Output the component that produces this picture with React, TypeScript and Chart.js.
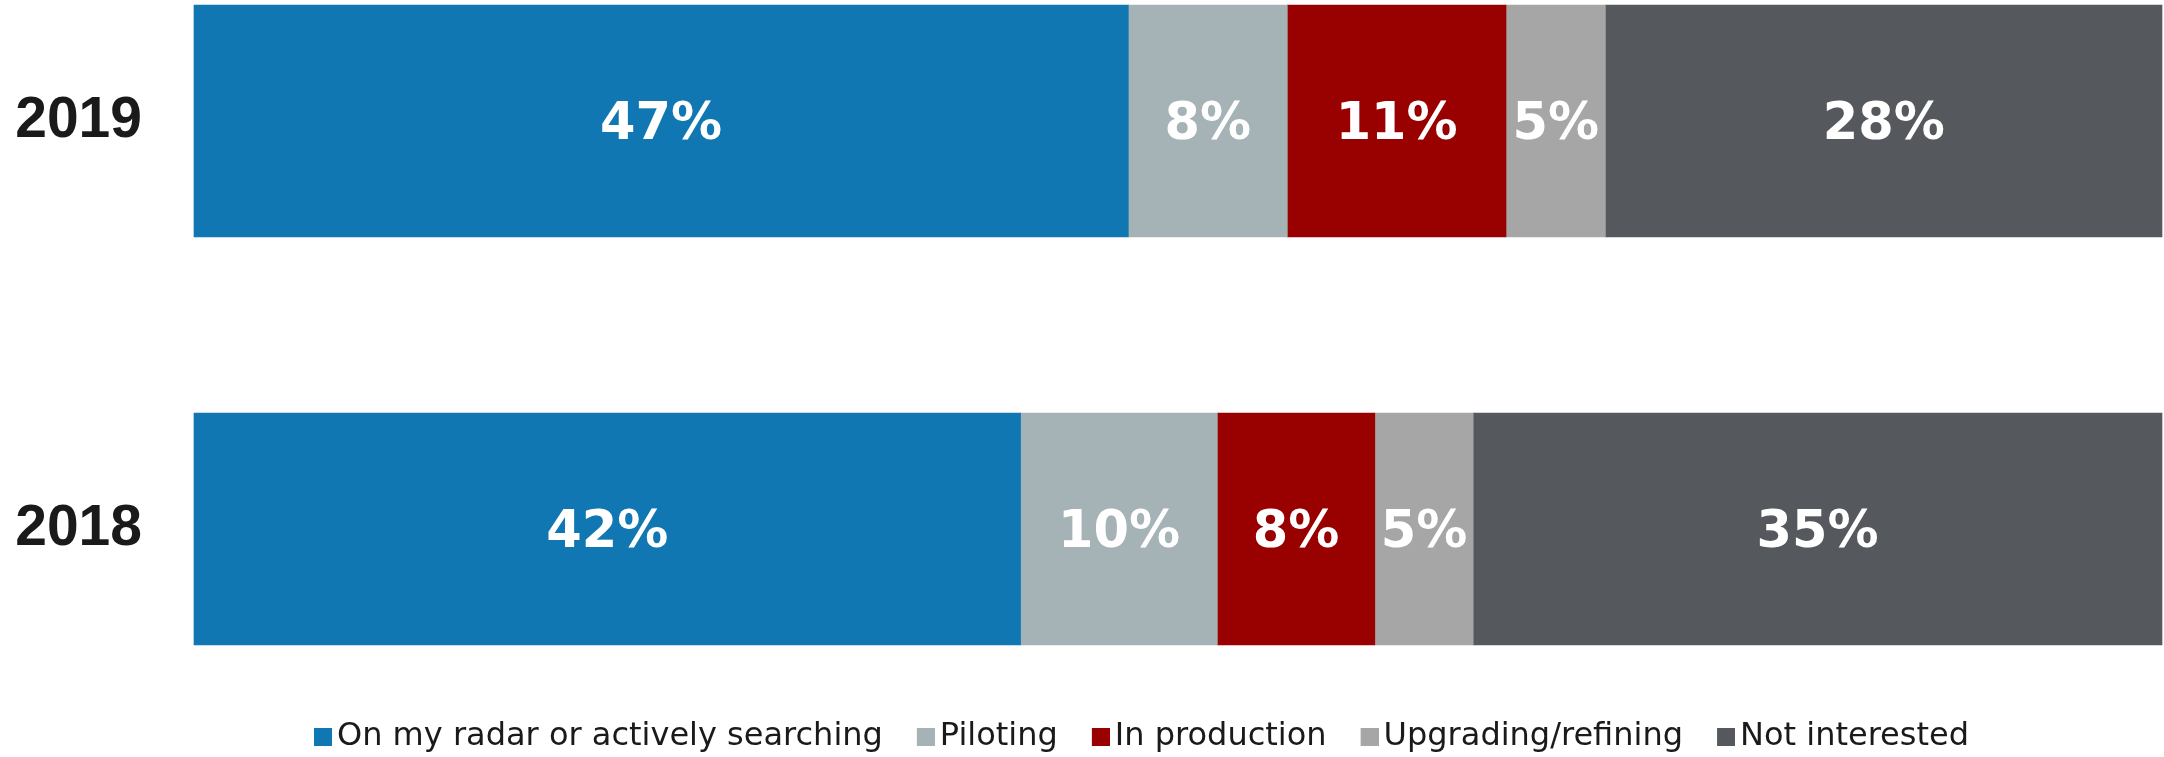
import React, { useEffect, useRef } from "react";
import { Chart, registerables } from "chart.js";

Chart.register(...registerables);

const categories = ["2019", "2018"];
const seriesNames = [
  "On my radar or actively searching",
  "Piloting",
  "In production",
  "Upgrading/refining",
  "Not interested",
];
const seriesColors = ["#1077b2", "#a5b3b6", "#990000", "#a6a6a6", "#55585d"];
const onMyRadar = [47, 42];
const piloting = [8, 10];
const inProduction = [11, 8];
const upgrading = [5, 5];
const notInterested = [28, 35];

const seriesValues = [onMyRadar, piloting, inProduction, upgrading, notInterested];

function makeSwatch(color: string): HTMLCanvasElement {
  // 24 wide, square of 18 placed at the right so the legend text sits close to it
  const c = document.createElement("canvas");
  c.width = 24;
  c.height = 18;
  const g = c.getContext("2d") as CanvasRenderingContext2D;
  g.fillStyle = color;
  g.fillRect(6, 0, 18, 18);
  return c;
}

const labelPlugin = {
  id: "segmentLabels",
  afterLayout(chart: any) {
    const lg = chart.legend;
    if (lg) {
      lg.left += 63;
      lg.right += 63;
    }
  },
  afterDatasetsDraw(chart: any) {
    const ctx = chart.ctx;
    ctx.save();
    ctx.font = "bold 51px 'DejaVu Sans'";
    ctx.fillStyle = "#ffffff";
    ctx.textAlign = "center";
    ctx.textBaseline = "middle";
    chart.data.datasets.forEach((ds: any, di: number) => {
      const meta = chart.getDatasetMeta(di);
      if (meta.hidden) return;
      meta.data.forEach((el: any, i: number) => {
        const p = el.getCenterPoint();
        ctx.fillText(ds.rawValues[i] + "%", p.x, p.y + 5);
      });
    });
    ctx.restore();
  },
};

export default function App() {
  const ref = useRef<HTMLCanvasElement | null>(null);

  useEffect(() => {
    document.body.style.margin = "0";
    const totals = categories.map((_, i) =>
      seriesValues.reduce((s, arr) => s + arr[i], 0)
    );
    const swatches = seriesColors.map(makeSwatch);
    const datasets = seriesNames.map((name, si) => ({
      label: name,
      data: seriesValues[si].map((v, i) => (v / totals[i]) * 100),
      rawValues: seriesValues[si],
      backgroundColor: seriesColors[si],
      borderWidth: 0,
      barThickness: 232,
      clip: false,
    }));
    const defaultGen = (Chart.defaults as any).plugins.legend.labels.generateLabels;
    const chart = new Chart(ref.current as HTMLCanvasElement, {
      type: "bar",
      data: { labels: categories, datasets: datasets as any },
      options: {
        indexAxis: "y",
        animation: false,
        responsive: true,
        maintainAspectRatio: false,
        layout: { padding: { top: 121, left: 0, right: 2, bottom: -6 } },
        scales: {
          x: {
            stacked: true,
            min: 0,
            max: 100,
            display: true,
            grid: { display: false, drawTicks: false },
            border: { display: false },
            ticks: { display: false },
            afterFit: (axis: any) => {
              axis.height = 153;
            },
          },
          y: {
            stacked: true,
            offset: false,
            grid: { display: false, drawTicks: false },
            border: { display: false },
            ticks: {
              padding: 52,
              color: "#1a1a1a",
              font: { family: "'Liberation Sans', Arial", size: 57, weight: "bold" },
            },
            afterFit: (axis: any) => {
              axis.width = 194;
            },
          },
        },
        plugins: {
          tooltip: { enabled: false },
          legend: {
            position: "bottom",
            labels: {
              usePointStyle: true,
              pointStyleWidth: 2,
              boxWidth: 18,
              boxHeight: 18,
              padding: 39,
              color: "#1a1a1a",
              font: { family: "'DejaVu Sans'", size: 32 },
              generateLabels: (chart: any) =>
                defaultGen(chart).map((item: any, i: number) => ({
                  ...item,
                  pointStyle: swatches[i],
                })),
            },
          },
        },
      },
      plugins: [labelPlugin],
    });
    return () => chart.destroy();
  }, []);

  return (
    <div style={{ width: "2164px", height: "757px", position: "relative" }}>
      <canvas ref={ref} />
    </div>
  );
}
